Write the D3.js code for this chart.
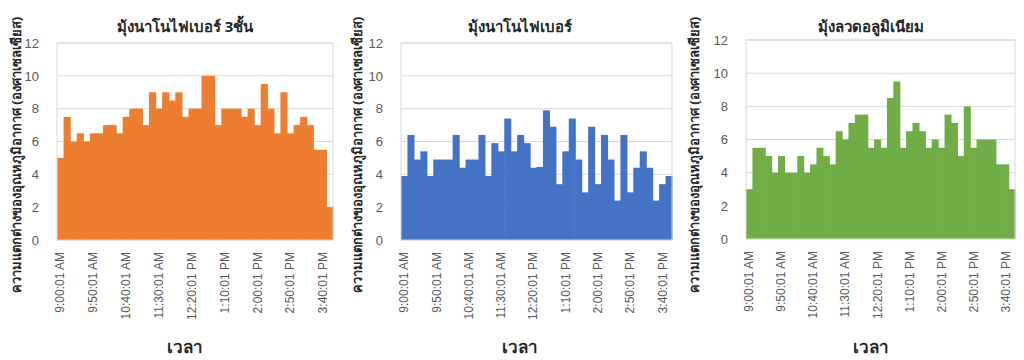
<!DOCTYPE html>
<html>
<head>
<meta charset="utf-8">
<script src="https://cdn.jsdelivr.net/npm/d3@7"></script>
<style>
  body { margin: 0; background: #fff; }
  svg { display: block; font-family: "Noto Sans", "DejaVu Sans", sans-serif; }
  .tick text { fill: #595959; }
</style>
</head>
<body>
<svg id="chart" width="1024" height="360"></svg>
<script>
// categories: one reading every 10 minutes
var times = ["9:00:01 AM", "9:10:01 AM", "9:20:01 AM", "9:30:01 AM", "9:40:01 AM",
  "9:50:01 AM", "10:00:01 AM", "10:10:01 AM", "10:20:01 AM", "10:30:01 AM",
  "10:40:01 AM", "10:50:01 AM", "11:00:01 AM", "11:10:01 AM", "11:20:01 AM",
  "11:30:01 AM", "11:40:01 AM", "11:50:01 AM", "12:00:01 PM", "12:10:01 PM",
  "12:20:01 PM", "12:30:01 PM", "12:40:01 PM", "12:50:01 PM", "1:00:01 PM",
  "1:10:01 PM", "1:20:01 PM", "1:30:01 PM", "1:40:01 PM", "1:50:01 PM",
  "2:00:01 PM", "2:10:01 PM", "2:20:01 PM", "2:30:01 PM", "2:40:01 PM",
  "2:50:01 PM", "3:00:01 PM", "3:10:01 PM", "3:20:01 PM", "3:30:01 PM",
  "3:40:01 PM", "3:50:01 PM"];

var tickLabels = ["9:00:01 AM", "9:50:01 AM", "10:40:01 AM", "11:30:01 AM", "12:20:01 PM",
  "1:10:01 PM", "2:00:01 PM", "2:50:01 PM", "3:40:01 PM"];

var yTicks = [0, 2, 4, 6, 8, 10, 12];

var titles = ["มุ้งนาโนไฟเบอร์ 3ชั้น", "มุ้งนาโนไฟเบอร์", "มุ้งลวดอลูมิเนียม"];
var yTitle = "ความแตกต่างของอุณหภูมิอากาศ (องศาเซลเซียส)";
var xTitle = "เวลา";

var nano3 = [5, 7.5, 6, 6.5, 6, 6.5, 6.5, 7, 7, 6.5,
  7.5, 8, 8, 7, 9, 8, 9, 8.5, 9, 7.5,
  8, 8, 10, 10, 7, 8, 8, 8, 7.5, 8,
  7, 9.5, 8, 6.5, 9, 6.5, 7, 7.5, 7, 5.5,
  5.5, 2];

var nano = [3.9, 6.4, 4.9, 5.4, 3.9, 4.9, 4.9, 4.9, 6.4, 4.4,
  4.9, 4.9, 6.4, 3.9, 5.9, 5.4, 7.4, 5.4, 6.4, 5.9,
  4.4, 4.45, 7.9, 6.9, 3.4, 5.4, 7.4, 4.9, 2.9, 6.9,
  3.4, 6.4, 4.9, 2.4, 6.4, 2.9, 4.4, 5.4, 4.4, 2.4,
  3.4, 3.9];

var alum = [3, 5.5, 5.5, 5, 4, 5, 4, 4, 5, 4,
  4.5, 5.5, 5, 4.5, 6.5, 6, 7, 7.5, 7.5, 5.5,
  6, 5.5, 8.5, 9.5, 5.5, 6.5, 7, 6.5, 5.5, 6,
  5.5, 7.5, 7, 5, 8, 5.5, 6, 6, 6, 4.5,
  4.5, 3];

var panels = [
  {values: nano3, color: "#ED7D31", left: 57, right: 333, top: 43, bottom: 240, yTitleX: 16, midX: 185},
  {values: nano, color: "#4472C4", left: 401, right: 672, top: 43, bottom: 240, yTitleX: 357, midX: 520},
  {values: alum, color: "#70AD47", left: 746, right: 1015, top: 40, bottom: 239, yTitleX: 694, midX: 871}
];

var svg = d3.select("#chart");

panels.forEach(function(p, i) {
  var x = d3.scaleBand().domain(times).range([p.left, p.right]).padding(0);
  var y = d3.scaleLinear().domain([0, 12]).range([p.bottom, p.top]);
  var g = svg.append("g");

  // gridlines
  g.selectAll("line.grid")
    .data(yTicks)
    .enter().append("line")
    .attr("class", "grid")
    .attr("x1", p.left).attr("x2", p.right)
    .attr("y1", function(d) { return y(d); })
    .attr("y2", function(d) { return y(d); })
    .attr("stroke", "#d9d9d9")
    .attr("stroke-width", 1);

  // columns, no gap
  g.selectAll("rect.bar")
    .data(p.values)
    .enter().append("rect")
    .attr("class", "bar")
    .attr("x", function(d, j) { return x(times[j]); })
    .attr("width", x.bandwidth() + 0.6)
    .attr("y", function(d) { return y(d); })
    .attr("height", function(d) { return y(0) - y(d); })
    .attr("fill", p.color);

  // plot border
  g.append("rect")
    .attr("x", p.left).attr("y", p.top)
    .attr("width", p.right - p.left).attr("height", p.bottom - p.top)
    .attr("fill", "none")
    .attr("stroke", "#d9d9d9");

  // y axis
  var yAxis = g.append("g")
    .attr("transform", "translate(" + (p.left - 15) + ",0)")
    .call(d3.axisLeft(y).tickValues(yTicks).tickSize(0).tickPadding(3));
  yAxis.select(".domain").remove();
  yAxis.selectAll("text").style("font-size", "13px");

  // x axis
  var xAxis = g.append("g")
    .attr("transform", "translate(0," + p.bottom + ")")
    .call(d3.axisBottom(x).tickValues(tickLabels).tickSize(0));
  xAxis.select(".domain").remove();
  xAxis.selectAll("text")
    .style("font-size", "12px")
    .attr("text-anchor", "end")
    .attr("transform", "rotate(-90)")
    .attr("x", -12)
    .attr("y", 0)
    .attr("dy", "0.35em");

  // titles
  g.append("text")
    .attr("x", p.midX)
    .attr("y", 32)
    .attr("text-anchor", "middle")
    .style("font-size", "15px")
    .style("font-weight", "bold")
    .attr("fill", "#262626")
    .text(titles[i]);

  g.append("text")
    .attr("transform", "translate(" + p.yTitleX + "," + 155 + ") rotate(-90)")
    .attr("text-anchor", "middle")
    .attr("dy", "0.35em")
    .style("font-size", "13px")
    .style("font-weight", "bold")
    .attr("fill", "#262626")
    .text(yTitle);

  g.append("text")
    .attr("x", p.midX)
    .attr("y", 353)
    .attr("text-anchor", "middle")
    .style("font-size", "17px")
    .style("font-weight", "bold")
    .attr("fill", "#262626")
    .text(xTitle);
});
</script>
</body>
</html>
